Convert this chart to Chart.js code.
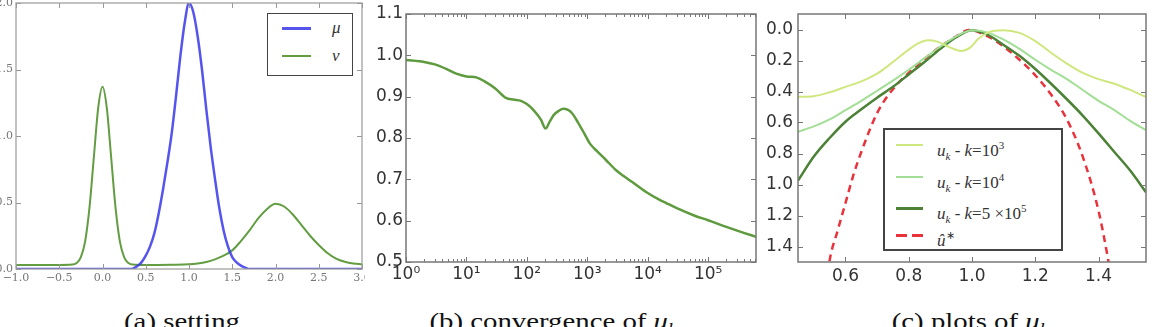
<!DOCTYPE html>
<html>
<head>
<meta charset="utf-8">
<script src="https://cdn.jsdelivr.net/npm/chart.js@4.4.0/dist/chart.umd.min.js"></script>
<style>
  body { margin: 0; width: 1158px; height: 327px; overflow: hidden; background: #fff; position: relative; font-family: "Liberation Serif", serif; }
  canvas { position: absolute; top: 0; }
  .legend { position: absolute; border: 1.5px solid #444; background: #fff; box-sizing: border-box; }
  .row { position: absolute; height: 20px; width: 100%; }
  .sw { position: absolute; top: 9px; height: 0; }
  .lab { position: absolute; top: 0; line-height: 20px; font-style: italic; color: #333; font-size: 17px; white-space: nowrap; }
  .lab sub, .lab sup { font-size: 11px; }
  .caption { position: absolute; top: 309px; font-size: 24px; line-height: 24px; white-space: nowrap; transform: translateX(-50%) scaleX(1.2); color: #111; }
</style>
</head>
<body>
<canvas id="chartA" width="385" height="290" style="left:-20px"></canvas>
<canvas id="chartB" width="395" height="290" style="left:368px"></canvas>
<canvas id="chartC" width="395" height="290" style="left:763px"></canvas>
<div id="legendA" class="legend" style="left:267px; top:13px; width:86px; height:63px"></div>
<div id="legendC" class="legend" style="left:883px; top:128px; width:180px; height:123px; border-width:2px"></div>
<div class="caption" style="left:182px">(a) setting</div>
<div class="caption" style="left:553px">(b) convergence of <i>u<sub style="font-size:16px">k</sub></i></div>
<div class="caption" style="left:970px">(c) plots of <i>u<sub style="font-size:16px">k</sub></i></div>
<script>
// (a) setting
const muX = [-1.0, 0.3, 0.35, 0.4, 0.45, 0.5, 0.55, 0.6, 0.65, 0.7, 0.75, 0.8, 0.85, 0.9, 0.95, 1.0,
             1.05, 1.1, 1.15, 1.2, 1.25, 1.3, 1.35, 1.4, 1.45, 1.5, 1.55, 1.6, 1.65, 1.7, 3.0];
const muY = [0, 0, 0.003, 0.02, 0.05, 0.1, 0.17, 0.27, 0.42, 0.6, 0.8, 1.02, 1.3, 1.6, 1.85, 2.0,
             1.93, 1.75, 1.5, 1.2, 0.92, 0.68, 0.46, 0.29, 0.17, 0.09, 0.05, 0.025, 0.01, 0, 0];
const nuX = [-1.0, -0.5, -0.35, -0.3, -0.25, -0.2, -0.15, -0.1, -0.05, 0.0, 0.05, 0.1, 0.15, 0.2, 0.25, 0.3, 0.35,
             0.5, 0.8, 1.0, 1.1, 1.2, 1.3, 1.4, 1.5, 1.6, 1.7, 1.8, 1.9, 2.0, 2.1, 2.2, 2.3, 2.4, 2.5, 2.6, 2.7, 2.8, 2.9, 3.0];
const nuY = [0.03, 0.03, 0.033, 0.045, 0.089, 0.21, 0.465, 0.84, 1.21, 1.37, 1.21, 0.84, 0.465, 0.21, 0.089, 0.045, 0.033,
             0.03, 0.032, 0.035, 0.041, 0.052, 0.072, 0.1, 0.14, 0.21, 0.29, 0.38, 0.45, 0.49, 0.47, 0.41, 0.33, 0.25, 0.18, 0.12, 0.078, 0.054, 0.041, 0.035];
const aXTicks = [-1.0, -0.5, 0.0, 0.5, 1.0, 1.5, 2.0, 2.5, 3.0];
const aXLabels = ['\u22121.0', '\u22120.5', '0.0', '0.5', '1.0', '1.5', '2.0', '2.5', '3.0'];
const aYTicks = [0, 0.5, 1.0, 1.5, 2.0];
const aYLabels = ['0.0', '0.5', '1.0', '1.5', '2.0'];

// (b) convergence of u_k
const bX = [1, 2, 3, 5, 7, 10, 15, 20, 30, 45, 60, 80, 100, 130, 170, 205, 240, 280, 340, 400, 480, 560, 700, 900,
            1100, 1500, 2000, 3000, 4000, 6000, 10000, 15000, 20000, 31600, 60000, 100000, 200000, 400000, 620000];
const bY = [0.989, 0.984, 0.978, 0.965, 0.955, 0.949, 0.946, 0.937, 0.92, 0.897, 0.893, 0.89, 0.882, 0.867, 0.845, 0.823, 0.84, 0.856, 0.866, 0.871, 0.868, 0.86, 0.838, 0.81,
            0.787, 0.766, 0.748, 0.722, 0.708, 0.69, 0.667, 0.652, 0.643, 0.629, 0.612, 0.601, 0.585, 0.57, 0.561];
const bXTicks = [1, 10, 100, 1000, 10000, 100000];
const bXLabels = ['10\u2070', '10\u00b9', '10\u00b2', '10\u00b3', '10\u2074', '10\u2075'];
const bYTicks = [0.5, 0.6, 0.7, 0.8, 0.9, 1.0, 1.1];
const bYLabels = ['0.5', '0.6', '0.7', '0.8', '0.9', '1.0', '1.1'];

// (c) plots of u_k
const k3X = [0.45, 0.5, 0.55, 0.6, 0.65, 0.7, 0.75, 0.8, 0.83, 0.86, 0.89, 0.93, 0.965, 0.995, 1.02, 1.05, 1.1,
             1.15, 1.2, 1.25, 1.3, 1.35, 1.4, 1.45, 1.5, 1.55];
const k3Y = [0.434, 0.43, 0.405, 0.37, 0.335, 0.285, 0.21, 0.13, 0.09, 0.07, 0.078, 0.115, 0.138, 0.115, 0.06, 0.02, 0.005,
             0.022, 0.075, 0.15, 0.22, 0.28, 0.32, 0.35, 0.39, 0.435];
const kX = [0.45, 0.5, 0.55, 0.6, 0.65, 0.7, 0.75, 0.8, 0.85, 0.9, 0.95, 1.0,
            1.05, 1.1, 1.15, 1.2, 1.25, 1.3, 1.35, 1.4, 1.45, 1.5, 1.55];
const k4Y = [0.66, 0.625, 0.58, 0.52, 0.46, 0.395, 0.33, 0.26, 0.185, 0.11, 0.045, 0.005,
             0.02, 0.065, 0.125, 0.195, 0.26, 0.32, 0.39, 0.46, 0.52, 0.59, 0.65];
const k5Y = [0.975, 0.82, 0.7, 0.595, 0.515, 0.44, 0.37, 0.29, 0.21, 0.125, 0.05, 0.005,
             0.035, 0.1, 0.17, 0.255, 0.35, 0.45, 0.555, 0.67, 0.79, 0.91, 1.05];
const uStarX = [0.54, 0.55, 0.575, 0.6, 0.625, 0.65, 0.7, 0.75, 0.8, 0.85, 0.9, 0.95, 0.99, 1.05, 1.1, 1.15, 1.2, 1.25, 1.3, 1.35, 1.4, 1.43, 1.44];
const uStarY = [1.65, 1.49, 1.3, 1.12, 0.94, 0.79, 0.54, 0.385, 0.28, 0.19, 0.11, 0.045, 0.003, 0.045, 0.11, 0.195, 0.295, 0.42, 0.58, 0.82, 1.17, 1.48, 1.6];
const cXTicks = [0.6, 0.8, 1.0, 1.2, 1.4];
const cXLabels = ['0.6', '0.8', '1.0', '1.2', '1.4'];
const cYTicks = [0.0, 0.2, 0.4, 0.6, 0.8, 1.0, 1.2, 1.4];
const cYLabels = ['0.0', '0.2', '0.4', '0.6', '0.8', '1.0', '1.2', '1.4'];
const cLabels = [
    'u<sub>k</sub> <span style="font-style:normal">-</span> k<span style="font-style:normal">=10<sup>3</sup></span>',
    'u<sub>k</sub> <span style="font-style:normal">-</span> k<span style="font-style:normal">=10<sup>4</sup></span>',
    'u<sub>k</sub> <span style="font-style:normal">-</span> k<span style="font-style:normal">=5 \u00d710<sup>5</sup></span>',
    '\u00fb<sup style="font-style:normal">\u2217</sup>'
];

const pts = (xs, ys) => xs.map((x, i) => ({ x: x, y: ys[i] }));

// matplotlib-like frame with ticks pointing inward
const frameTicks = {
    id: 'frameTicks',
    afterDraw(chart, args, opts) {
        const { ctx, chartArea: a } = chart;
        const xs = chart.scales.x, ys = chart.scales.y;
        ctx.save();
        ctx.strokeStyle = opts.color;
        ctx.lineWidth = 1;
        ctx.beginPath();
        const vTick = (v, len) => {
            const px = Math.round(xs.getPixelForValue(v)) + 0.5;
            ctx.moveTo(px, a.bottom); ctx.lineTo(px, a.bottom - len);
            ctx.moveTo(px, a.top); ctx.lineTo(px, a.top + len);
        };
        const hTick = (v, len) => {
            const py = Math.round(ys.getPixelForValue(v)) + 0.5;
            ctx.moveTo(a.left, py); ctx.lineTo(a.left + len, py);
            ctx.moveTo(a.right, py); ctx.lineTo(a.right - len, py);
        };
        xs.ticks.forEach(t => vTick(t.value, 5));
        ys.ticks.forEach(t => hTick(t.value, 5));
        (opts.minorX || []).forEach(v => vTick(v, 3));
        ctx.stroke();
        ctx.lineWidth = opts.width;
        ctx.strokeRect(a.left, a.top, a.right - a.left, a.bottom - a.top);
        ctx.restore();
    }
};

function axis(type, min, max, ticks, labels, size, vertical, font, color, pad, extra) {
    return Object.assign({
        type: type, min: min, max: max,
        grid: { display: false, drawTicks: false },
        border: { display: false },
        afterBuildTicks: scale => { scale.ticks = ticks.map(v => ({ value: v })); },
        afterFit: scale => {
            if (vertical) { scale.width = size; scale.paddingTop = 0; scale.paddingBottom = 0; }
            else { scale.height = size; scale.paddingLeft = 0; scale.paddingRight = 0; }
        },
        ticks: {
            autoSkip: false, maxRotation: 0, minRotation: 0, padding: pad,
            font: font, color: color,
            callback: (value, index) => labels[index]
        }
    }, extra || {});
}

function makeChart(id, datasets, xAxis, yAxis, padding, frame) {
    return new Chart(document.getElementById(id), {
        type: 'line',
        data: { datasets: datasets },
        options: {
            responsive: false,
            animation: false,
            devicePixelRatio: 1,
            layout: { padding: padding },
            elements: { point: { radius: 0 }, line: { cubicInterpolationMode: 'monotone' } },
            plugins: { legend: { display: false }, tooltip: { enabled: false }, frameTicks: frame },
            scales: { x: xAxis, y: yAxis }
        },
        plugins: [frameTicks]
    });
}

const serifTick = { family: 'DejaVu Serif', size: 11 };
const sansTick = { family: 'DejaVu Sans', size: 17 };

const aSets = [
    { label: '\u03bc', data: pts(muX, muY), borderColor: 'rgba(55,55,235,0.85)', borderWidth: 2.5 },
    { label: '\u03bd', data: pts(nuX, nuY), borderColor: '#629d42', borderWidth: 2 }
];
makeChart('chartA', aSets,
    axis('linear', -1.0, 3.0, aXTicks, aXLabels, 21, false, serifTick, '#777', 3),
    axis('linear', 0, 2.0, aYTicks, aYLabels, 36, true, serifTick, '#777', 3),
    { left: 0, right: 3, top: 3, bottom: 0 },
    { color: '#999', width: 1.2 });

const bSets = [
    { label: 'u_k', data: pts(bX, bY), borderColor: '#5e9a3e', borderWidth: 2.5 }
];
const bMinor = [];
for (let e = 0; e <= 5; e++) {
    for (let m = 2; m <= 9; m++) {
        if (m * Math.pow(10, e) < 620000) bMinor.push(m * Math.pow(10, e));
    }
}
makeChart('chartB', bSets,
    axis('logarithmic', 1, 620000, bXTicks, bXLabels, 28, false, sansTick, '#333', 2),
    axis('linear', 0.5, 1.1, bYTicks, bYLabels, 38, true, sansTick, '#333', 3),
    { left: 0, right: 7, top: 14, bottom: 0 },
    { color: '#777', width: 1.5, minorX: bMinor });

const cSets = [
    { label: 'k=10^3', data: pts(k3X, k3Y), borderColor: '#cfe77f', borderWidth: 2 },
    { label: 'k=10^4', data: pts(kX, k4Y), borderColor: '#a2de95', borderWidth: 2 },
    { label: 'k=5x10^5', data: pts(kX, k5Y), borderColor: '#4b8236', borderWidth: 2.5 },
    { label: 'u*', data: pts(uStarX, uStarY), borderColor: '#e8323c', borderWidth: 2.5, borderDash: [7, 5] }
];
makeChart('chartC', cSets,
    axis('linear', 0.45, 1.55, cXTicks, cXLabels, 28, false, sansTick, '#333', 4),
    axis('linear', -0.1, 1.5, cYTicks, cYLabels, 35, true, sansTick, '#333', 5, { reverse: true }),
    { left: 0, right: 12, top: 14, bottom: 0 },
    { color: '#777', width: 1.5 });

// legends, built from the dataset styles
function legend(id, sets, labels, rowTops, swLeft, swWidth, labLeft) {
    const box = document.getElementById(id);
    sets.forEach((ds, i) => {
        const row = document.createElement('div');
        row.className = 'row';
        row.style.top = rowTops[i] + 'px';
        const sw = document.createElement('span');
        sw.className = 'sw';
        sw.style.left = swLeft + 'px';
        sw.style.width = swWidth + 'px';
        if (ds.borderDash) {
            sw.style.height = (ds.borderWidth + 0.5) + 'px';
            sw.style.top = (10 - ds.borderWidth / 2) + 'px';
            sw.style.background = 'repeating-linear-gradient(90deg,' + ds.borderColor + ' 0 11px, transparent 11px 16px)';
        } else {
            sw.style.borderTop = (ds.borderWidth + 0.5) + 'px solid ' + ds.borderColor;
        }
        const lab = document.createElement('span');
        lab.className = 'lab';
        lab.style.left = labLeft + 'px';
        lab.innerHTML = labels[i];
        row.appendChild(sw);
        row.appendChild(lab);
        box.appendChild(row);
    });
}
legend('legendA', aSets, ['\u03bc', '\u03bd'], [4, 32], 14, 29, 64);
legend('legendC', cSets, cLabels, [5, 37, 68, 95], 11, 27, 52);
</script>
</body>
</html>
